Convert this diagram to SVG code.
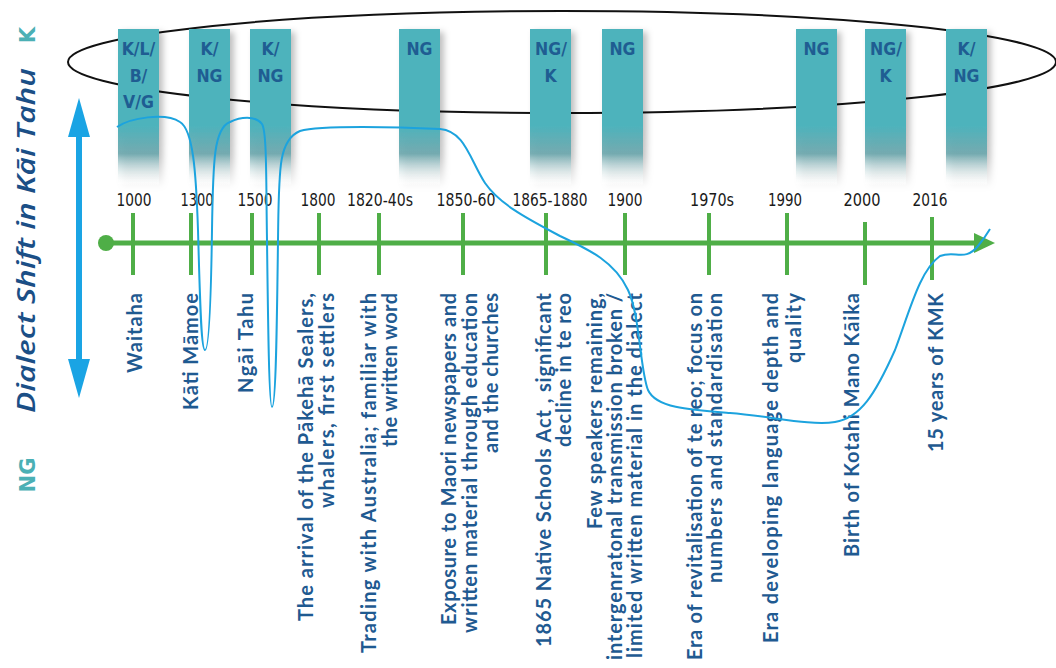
<svg xmlns="http://www.w3.org/2000/svg" width="1056" height="668" viewBox="0 0 1056 668">
<defs>
<linearGradient id="boxg" x1="0" y1="0" x2="0" y2="1">
<stop offset="0" stop-color="#4DB3BC"/>
<stop offset="0.62" stop-color="#4DB3BC"/>
<stop offset="0.8" stop-color="#6AA5AB" stop-opacity="0.9"/>
<stop offset="1" stop-color="#ffffff" stop-opacity="0"/>
</linearGradient>
<filter id="sh" x="-30%" y="-10%" width="160%" height="130%">
<feDropShadow dx="4" dy="3" stdDeviation="3" flood-color="#000" flood-opacity="0.25"/>
</filter>
<style>
.box{fill:url(#boxg);filter:url(#sh)}
.bt{font-family:"DejaVu Sans Condensed","DejaVu Sans",sans-serif;font-stretch:condensed;font-weight:bold;font-size:17.5px;fill:#1F5D92;text-anchor:middle}
.yr{font-family:"DejaVu Sans Condensed","DejaVu Sans",sans-serif;font-stretch:condensed;font-size:18.5px;fill:#1a1a1a;text-anchor:middle}
.ev{font-family:Lato,"Noto Sans",sans-serif;font-weight:bold;font-size:20px;fill:#1F5A91;text-anchor:end}
.tick{stroke:#4FAE47;stroke-width:4}
.axis{stroke:#4FAE47;stroke-width:5;fill:none}
.curve{stroke:#1CA3DE;stroke-width:2;fill:none}
.side{font-family:"DejaVu Sans",sans-serif;font-weight:bold;font-size:21px;fill:#4BB0B5;text-anchor:middle}
</style>
</defs>
<rect width="1056" height="668" fill="#ffffff"/>

<ellipse cx="562" cy="62" rx="494" ry="51" fill="none" stroke="#111" stroke-width="2"/>

<g id="box-1"><rect class="box" x="118" y="29" width="41" height="156"/><text class="bt" x="138.5" y="55">K/L/</text><text class="bt" x="138.5" y="82">B/</text><text class="bt" x="138.5" y="108">V/G</text></g>
<g id="box-2"><rect class="box" x="189" y="29" width="41" height="156"/><text class="bt" x="209.5" y="55">K/</text><text class="bt" x="209.5" y="82">NG</text></g>
<g id="box-3"><rect class="box" x="250" y="29" width="41" height="156"/><text class="bt" x="270.5" y="55">K/</text><text class="bt" x="270.5" y="82">NG</text></g>
<g id="box-4"><rect class="box" x="399" y="29" width="41" height="156"/><text class="bt" x="419.5" y="55">NG</text></g>
<g id="box-5"><rect class="box" x="530" y="29" width="41" height="156"/><text class="bt" x="551" y="55">NG/</text><text class="bt" x="550.5" y="82">K</text></g>
<g id="box-6"><rect class="box" x="602" y="29" width="41" height="156"/><text class="bt" x="622.5" y="55">NG</text></g>
<g id="box-7"><rect class="box" x="796" y="29" width="41" height="156"/><text class="bt" x="816.5" y="55">NG</text></g>
<g id="box-8"><rect class="box" x="865" y="29" width="41" height="156"/><text class="bt" x="886" y="55">NG/</text><text class="bt" x="885.5" y="82">K</text></g>
<g id="box-9"><rect class="box" x="946" y="29" width="41" height="156"/><text class="bt" x="966.5" y="55">K/</text><text class="bt" x="966.5" y="82">NG</text></g>

<g id="side-axis">
<text class="side" transform="translate(35,35) rotate(-90)">K</text>
<text class="side" transform="translate(35,475) rotate(-90)">NG</text>
<text transform="translate(35,413) rotate(-90)" font-family="'Open Sans','Noto Sans',sans-serif" font-style="italic" font-weight="600" font-size="26" fill="#1B4F86" textLength="345" lengthAdjust="spacingAndGlyphs">Dialect Shift in Kāi Tahu</text>
<line x1="79" y1="130" x2="79" y2="366" stroke="#1AA4E4" stroke-width="6"/>
<polygon points="79,98 90,137 68,137" fill="#1AA4E4"/>
<polygon points="79,398 90,359 68,359" fill="#1AA4E4"/>
</g>

<g id="e1000"><line class="tick" x1="133" y1="213" x2="133" y2="275"/><text class="yr" x="134" y="206" textLength="35" lengthAdjust="spacingAndGlyphs">1000</text><text class="ev" transform="translate(142,293) rotate(-90)" textLength="80">Waitaha</text></g>
<g id="e1300"><line class="tick" x1="191" y1="213" x2="191" y2="275"/><text class="yr" x="197" y="206" textLength="33" lengthAdjust="spacingAndGlyphs">1300</text><text class="ev" transform="translate(198,293) rotate(-90)" textLength="117">Kāti Māmoe</text></g>
<g id="e1500"><line class="tick" x1="252" y1="213" x2="252" y2="275"/><text class="yr" x="255" y="206" textLength="35" lengthAdjust="spacingAndGlyphs">1500</text><text class="ev" transform="translate(253,293) rotate(-90)" textLength="100">Ngāi Tahu</text></g>
<g id="e1800"><line class="tick" x1="319" y1="213" x2="319" y2="275"/><text class="yr" x="318" y="206" textLength="35" lengthAdjust="spacingAndGlyphs">1800</text><text class="ev" transform="translate(313,293) rotate(-90)" textLength="328">The arrival of the Pākehā Sealers,</text><text class="ev" transform="translate(334,293) rotate(-90)" textLength="215">whalers, first settlers</text></g>
<g id="e1820"><line class="tick" x1="379" y1="213" x2="379" y2="275"/><text class="yr" x="380" y="206" textLength="66" lengthAdjust="spacingAndGlyphs">1820-40s</text><text class="ev" transform="translate(376,293) rotate(-90)" textLength="360">Trading with Australia; familiar with</text><text class="ev" transform="translate(397,293) rotate(-90)" textLength="154">the written word</text></g>
<g id="e1850"><line class="tick" x1="463" y1="213" x2="463" y2="275"/><text class="yr" x="466" y="206" textLength="59" lengthAdjust="spacingAndGlyphs">1850-60</text><text class="ev" transform="translate(456,293) rotate(-90)" textLength="332">Exposure to Maori newspapers and</text><text class="ev" transform="translate(477,293) rotate(-90)" textLength="340">written material through education</text><text class="ev" transform="translate(498,293) rotate(-90)" textLength="160">and the churches</text></g>
<g id="e1865"><line class="tick" x1="546" y1="213" x2="546" y2="275"/><text class="yr" x="550" y="206" textLength="75" lengthAdjust="spacingAndGlyphs">1865-1880</text><text class="ev" transform="translate(551,293) rotate(-90)" textLength="354">1865 Native Schools Act , significant</text><text class="ev" transform="translate(571,293) rotate(-90)" textLength="154">decline in te reo</text></g>
<g id="e1900"><line class="tick" x1="625" y1="213" x2="625" y2="275"/><text class="yr" x="625" y="206" textLength="35" lengthAdjust="spacingAndGlyphs">1900</text><text class="ev" transform="translate(602,293) rotate(-90)" textLength="236">Few speakers remaining,</text><text class="ev" transform="translate(622,293) rotate(-90)" textLength="367">intergenratonal transmission broken /</text><text class="ev" transform="translate(642,293) rotate(-90)" textLength="365">limited written material in the dialect</text></g>
<g id="e1970"><line class="tick" x1="709" y1="213" x2="709" y2="275"/><text class="yr" x="712" y="206" textLength="44" lengthAdjust="spacingAndGlyphs">1970s</text><text class="ev" transform="translate(702,293) rotate(-90)" textLength="367">Era of revitalisation of te reo; focus on</text><text class="ev" transform="translate(722,293) rotate(-90)" textLength="290">numbers and standardisation</text></g>
<g id="e1990"><line class="tick" x1="787" y1="213" x2="787" y2="275"/><text class="yr" x="785" y="206" textLength="34" lengthAdjust="spacingAndGlyphs">1990</text><text class="ev" transform="translate(778,293) rotate(-90)" textLength="350">Era developing language depth and</text><text class="ev" transform="translate(801,293) rotate(-90)" textLength="70">quality</text></g>
<g id="e2000"><line class="tick" x1="865" y1="222" x2="865" y2="285"/><text class="yr" x="862" y="206" textLength="37" lengthAdjust="spacingAndGlyphs">2000</text><text class="ev" transform="translate(859,293) rotate(-90)" textLength="264">Birth of Kotahi Mano Kāika</text></g>
<g id="e2016"><line class="tick" x1="932" y1="217" x2="932" y2="280"/><text class="yr" x="930" y="206" textLength="35" lengthAdjust="spacingAndGlyphs">2016</text><text class="ev" transform="translate(943,293) rotate(-90)" textLength="159">15 years of KMK</text></g>

<g id="connectors">
<line class="axis" x1="106" y1="243" x2="978" y2="243"/>
<circle cx="106" cy="243" r="8" fill="#4FAE47"/>
<polygon points="974,233 995,243 974,253" fill="#4FAE47"/>
<path class="curve" d="M117,127 C130,118 165,112 180,122 C193,130 196,170 198,230 C200,300 201,350 205,350 C209,350 211,300 212,230 C213,160 214,128 230,122 C240,117 255,115 262,124 C267,132 266,180 267,240 C268,320 269,407 272,407 C276,407 277,320 278,240 C279,170 278,140 300,131 C320,125 400,127 440,129 C465,131 470,160 485,183 C500,205 530,220 560,236 C590,250 615,262 628,290 C640,315 640,370 648,390 C656,408 690,410 730,413 C770,416 810,426 835,422 C860,418 875,395 895,350 C910,310 920,270 940,256 C955,250 965,262 978,246 C983,240 987,234 990,229"/>
</g>
</svg>
